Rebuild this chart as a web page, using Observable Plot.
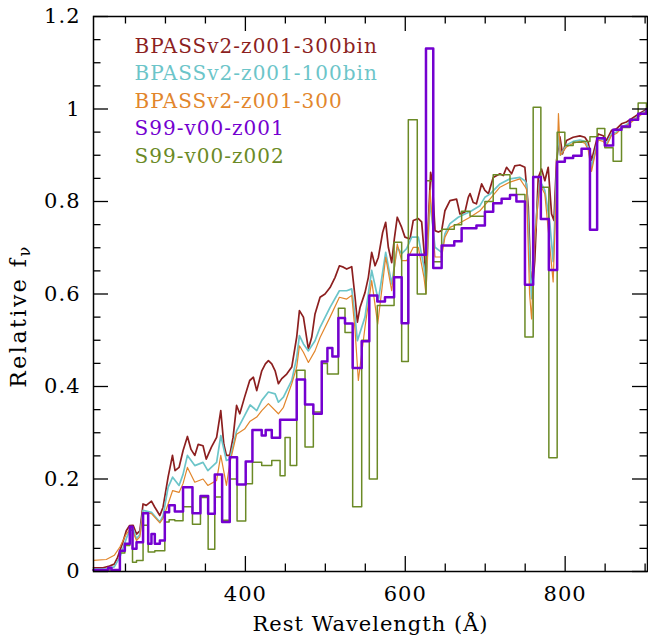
<!DOCTYPE html>
<html>
<head>
<meta charset="utf-8">
<script src="https://cdn.jsdelivr.net/npm/d3@7"></script>
<script src="https://cdn.jsdelivr.net/npm/@observablehq/plot@0.6"></script>
<style>
  html, body { margin: 0; padding: 0; background: white; }
</style>
</head>
<body>
<div id="chart"></div>
<script>
// ---------- data (wavelength in Å, relative f_nu) ----------
const bpass300bin = [[210,0.008],[222,0.008],[230,0.012],[236,0.016],[240,0.03],[243,0.045],[247,0.065],[251,0.088],[255,0.099],[259.6,0.1],[263.8,0.081],[268,0.088],[272,0.146],[276,0.143],[282.5,0.152],[286.7,0.139],[293,0.121],[297,0.139],[303.3,0.204],[308.8,0.251],[312,0.218],[317,0.225],[322,0.261],[327.5,0.292],[332,0.264],[336.7,0.251],[341,0.275],[347,0.272],[351,0.243],[357.5,0.269],[364,0.29],[369.2,0.348],[373,0.275],[376.3,0.251],[380.4,0.251],[384.6,0.29],[389,0.359],[393,0.341],[399,0.377],[405.4,0.413],[410,0.42],[414.2,0.391],[420.5,0.434],[425,0.449],[428.8,0.456],[433,0.449],[437.2,0.434],[441.3,0.406],[445.5,0.417],[451.7,0.427],[458,0.442],[464.2,0.507],[467.6,0.564],[472.6,0.55],[478.8,0.481],[483,0.507],[487.1,0.557],[493.4,0.593],[499.6,0.6],[505.9,0.614],[512.2,0.636],[517.6,0.661],[522.6,0.658],[526.7,0.654],[533,0.659],[537.2,0.593],[540.1,0.539],[543.4,0.571],[549.6,0.603],[553.8,0.636],[558,0.69],[562.2,0.661],[566.3,0.679],[571.7,0.733],[575.5,0.755],[578.8,0.701],[583,0.668],[586.3,0.719],[590,0.766],[595.5,0.744],[599.6,0.723],[606,0.719],[610,0.759],[616.3,0.763],[620.5,0.756],[623.4,0.694],[625.9,0.636],[628.8,0.752],[631.7,0.863],[633.8,0.845],[637.2,0.737],[641.3,0.734],[645.5,0.737],[649.6,0.78],[655.9,0.802],[664.2,0.805],[668.4,0.773],[674.6,0.777],[678.8,0.809],[681,0.817],[685,0.798],[689,0.795],[695.5,0.838],[699.6,0.824],[704,0.817],[710,0.852],[718.4,0.86],[722.6,0.856],[726.7,0.874],[733,0.86],[737,0.877],[743.4,0.879],[749.6,0.874],[753.8,0.79],[756.7,0.65],[759,0.61],[762,0.672],[766.3,0.852],[770.5,0.87],[774.6,0.845],[778.8,0.874],[783,0.773],[786,0.759],[789.2,0.889],[793.4,0.94],[796.7,0.903],[801.7,0.932],[810,0.939],[818.4,0.942],[824.6,0.939],[828.8,0.928],[833,0.889],[837.2,0.918],[841.3,0.946],[847.6,0.942],[851.7,0.932],[858,0.954],[864.2,0.957],[870.5,0.968],[876.7,0.972],[883,0.979],[889.2,0.986],[895.5,0.993],[903,1.0]];

const bpass100bin = [[210,0.005],[226,0.005],[236,0.01],[243,0.031],[251,0.071],[255,0.088],[259.6,0.092],[263.8,0.071],[268,0.08],[272,0.132],[282.5,0.128],[293,0.107],[297,0.12],[303.3,0.182],[309,0.204],[317,0.186],[322,0.21],[327.5,0.251],[336.7,0.229],[347,0.236],[353,0.218],[364,0.236],[369.2,0.294],[376.3,0.24],[380.4,0.243],[389,0.304],[399,0.337],[405.9,0.36],[414.2,0.348],[420.5,0.37],[428.8,0.388],[437.2,0.384],[441.3,0.366],[447.6,0.377],[458,0.413],[464.2,0.463],[467.6,0.51],[472.6,0.492],[478.8,0.477],[487.1,0.499],[493.4,0.528],[505.9,0.571],[517.6,0.607],[526.7,0.607],[533,0.611],[537.2,0.55],[540.1,0.499],[549.6,0.55],[558,0.651],[566.3,0.586],[575.5,0.69],[583,0.622],[590,0.701],[595.5,0.687],[601.7,0.698],[608,0.723],[616.3,0.723],[623.4,0.658],[625.9,0.618],[631,0.802],[637.2,0.701],[645.5,0.69],[649.6,0.73],[655.9,0.752],[666.3,0.766],[674.6,0.773],[681,0.778],[693.4,0.791],[699.6,0.809],[705.9,0.816],[718.4,0.838],[730.9,0.849],[743.4,0.852],[749.6,0.845],[751.7,0.838],[755.9,0.665],[758,0.59],[762,0.73],[768.4,0.845],[774.6,0.824],[780.9,0.752],[785,0.67],[789.2,0.859],[791.6,0.953],[794,0.9],[801.7,0.922],[810,0.93],[818.4,0.933],[824.6,0.93],[828.8,0.918],[833,0.875],[837.2,0.905],[841.3,0.937],[847.6,0.934],[851.7,0.924],[858,0.946],[864.2,0.95],[870.5,0.961],[876.7,0.966],[883,0.974],[889.2,0.982],[895.5,0.99],[903,0.998]];

const bpass300 = [[210,0.024],[226,0.026],[236,0.035],[243,0.053],[251,0.081],[257,0.095],[263.8,0.067],[268,0.075],[272,0.128],[282.5,0.125],[293,0.105],[297,0.115],[303.3,0.146],[309,0.175],[317,0.171],[322,0.19],[327.5,0.225],[336.7,0.193],[347,0.2],[353,0.186],[364,0.197],[369.2,0.251],[376.3,0.186],[380.4,0.233],[389,0.297],[399,0.308],[405.9,0.325],[414.2,0.334],[420.5,0.348],[428.8,0.363],[441.3,0.341],[447.6,0.355],[458,0.406],[464.2,0.442],[467.6,0.488],[472.6,0.474],[478.8,0.452],[487.1,0.477],[493.4,0.506],[505.9,0.55],[517.6,0.593],[526.7,0.589],[533,0.597],[537.2,0.521],[541.3,0.413],[549.6,0.528],[558,0.629],[565.5,0.535],[575.5,0.679],[583,0.607],[590,0.708],[595.5,0.672],[601.7,0.672],[610,0.701],[616.3,0.701],[623.4,0.636],[625.9,0.6],[631,0.824],[637.2,0.68],[645.5,0.68],[649.6,0.723],[655.9,0.744],[666.3,0.752],[681,0.766],[693.4,0.78],[705.9,0.805],[718.4,0.831],[730.9,0.842],[743.4,0.849],[751.7,0.827],[755.5,0.6],[758,0.546],[762,0.723],[768.4,0.838],[774.6,0.816],[780.9,0.701],[785,0.626],[789.2,0.838],[791.6,0.99],[794,0.9],[801.7,0.918],[810,0.926],[818.4,0.93],[824.6,0.926],[828.8,0.912],[833,0.865],[837.2,0.9],[841.3,0.933],[847.6,0.93],[851.7,0.92],[858,0.943],[864.2,0.947],[870.5,0.958],[876.7,0.964],[883,0.972],[889.2,0.98],[895.5,0.988],[903,0.996]];

// Starburst99 spectra: [bin start, value] (drawn as steps)
const s99z001 = [[210,0.003],[228.4,0.008],[232.5,0.003],[243,0.045],[249.2,0.06],[255.4,0.097],[258.8,0.049],[263.8,0.063],[272,0.126],[278.4,0.06],[282.5,0.081],[286.7,0.06],[293,0.067],[299.2,0.128],[304.6,0.143],[311.7,0.13],[322,0.182],[333.8,0.126],[343.8,0.163],[353.4,0.125],[361.7,0.21],[370.9,0.107],[380.4,0.247],[389.6,0.188],[400.4,0.238],[408.8,0.306],[420.4,0.294],[425.4,0.306],[433,0.289],[443.4,0.328],[464.2,0.415],[474.6,0.361],[485,0.341],[495.5,0.454],[502.6,0.483],[508.8,0.465],[516.3,0.548],[524.6,0.536],[534.2,0.44],[545.5,0.498],[555,0.597],[565,0.584],[574.6,0.593],[586,0.636],[595.5,0.537],[603.8,0.685],[625.9,1.131],[635,0.656],[645.5,0.705],[661.3,0.714],[670.5,0.742],[689,0.748],[699.6,0.778],[710,0.796],[720.5,0.806],[731,0.814],[739,0.8],[749.7,0.62],[760,0.853],[769.6,0.762],[779.6,0.652],[790,0.886],[799.6,0.894],[810,0.899],[820.5,0.914],[831,0.739],[840,0.937],[849.6,0.921],[860,0.955],[870.5,0.962],[881,0.977],[891.3,0.99],[901.7,1.0],[903,1.0]];

const s99z002 = [[210,0.003],[243,0.04],[249.2,0.056],[255.4,0.089],[258.8,0.02],[263.8,0.024],[272,0.1],[278.4,0.042],[286.7,0.045],[299.2,0.107],[304.6,0.112],[311.7,0.11],[322,0.14],[333.8,0.102],[343.8,0.16],[353.4,0.048],[361.7,0.161],[370.9,0.111],[380.4,0.2],[389.6,0.109],[400.4,0.19],[408.8,0.236],[420.4,0.229],[433,0.24],[443.4,0.207],[449.6,0.29],[456,0.229],[464.2,0.435],[474.6,0.269],[485,0.345],[495.5,0.45],[502.6,0.427],[516.3,0.569],[524.6,0.517],[534.2,0.14],[545.5,0.5],[555,0.2],[565,0.575],[586,0.712],[595.5,0.454],[603.8,0.977],[615,0.6],[625.9,0.845],[635,0.67],[645.5,0.74],[661.3,0.75],[670.5,0.779],[681,0.768],[699.6,0.8],[710,0.858],[731,0.828],[739,0.815],[749.7,0.507],[760,1.004],[769.6,0.831],[779.6,0.246],[790,0.95],[799.6,0.921],[810,0.928],[820.5,0.93],[831,0.94],[840,0.958],[849.6,0.916],[860,0.887],[870.5,0.96],[881,0.977],[891.3,1.013],[901.7,1.0],[903,1.0]];

const seriesNames = ["BPASSv2-z001-300bin", "BPASSv2-z001-100bin", "BPASSv2-z001-300", "S99-v00-z001", "S99-v00-z002"];
const seriesColors = ["#8c1f1f", "#6cc5c9", "#e2862c", "#7400d0", "#6b8a26"];

const xDomain = [210, 903];
const yDomain = [0, 1.2];
const xMajorTicks = [400, 600, 800];
const xMinorTicks = [250, 300, 350, 450, 500, 550, 650, 700, 750, 850, 900];
const yMajorTicks = [0, 0.2, 0.4, 0.6, 0.8, 1, 1.2];
const yMinorTicks = [0.05, 0.1, 0.15, 0.25, 0.3, 0.35, 0.45, 0.5, 0.55, 0.65, 0.7, 0.75, 0.85, 0.9, 0.95, 1.05, 1.1, 1.15];
const xTitle = "Rest Wavelength (Å)";
const yTitle = "Relative f";
const yTitleSub = "ν";

// ---------- layout ----------
const W = 648, H = 639;
const mL = 93, mR = 1, mT = 16, mB = 68;
const innerW = W - mL - mR, innerH = H - mT - mB;
const majorLen = 15, minorLen = 7.5;

const spectra = [bpass300bin, bpass100bin, bpass300];
const spectraWidth = [1.7, 1.7, 1.2];
const steps = [s99z001, s99z002];
const stepWidth = [2.5, 1.5];

const marks = [];
spectra.forEach((s, i) => {
  marks.push(Plot.line(s, {x: d => d[0], y: d => d[1], stroke: seriesColors[i], strokeWidth: spectraWidth[i], strokeLinejoin: "round"}));
});
// olive below purple
[1, 0].forEach(j => {
  marks.push(Plot.line(steps[j], {x: d => d[0], y: d => d[1], stroke: seriesColors[3 + j], strokeWidth: stepWidth[j], curve: "step-after"}));
});

// inward ticks on all four sides
const tickStyle = {stroke: "black", strokeWidth: 1.3, strokeOpacity: 1};
marks.push(
  Plot.tickX(xMajorTicks, {x: d => d, insetTop: innerH - majorLen, ...tickStyle}),
  Plot.tickX(xMinorTicks, {x: d => d, insetTop: innerH - minorLen, ...tickStyle}),
  Plot.tickX(xMajorTicks, {x: d => d, insetBottom: innerH - majorLen, ...tickStyle}),
  Plot.tickX(xMinorTicks, {x: d => d, insetBottom: innerH - minorLen, ...tickStyle}),
  Plot.tickY(yMajorTicks, {y: d => d, insetRight: innerW - majorLen, ...tickStyle}),
  Plot.tickY(yMinorTicks, {y: d => d, insetRight: innerW - minorLen, ...tickStyle}),
  Plot.tickY(yMajorTicks, {y: d => d, insetLeft: innerW - majorLen, ...tickStyle}),
  Plot.tickY(yMinorTicks, {y: d => d, insetLeft: innerW - minorLen, ...tickStyle}),
  Plot.axisX(xMajorTicks, {tickSize: 0, tickPadding: 15, fontSize: 21, label: null, tickFormat: d => String(d)}),
  Plot.axisY(yMajorTicks, {tickSize: 0, tickPadding: 13, fontSize: 21, label: null, tickFormat: d => String(d)}),
  Plot.frame({stroke: "black", strokeWidth: 1.5}),
  Plot.text([xTitle], {frameAnchor: "bottom", dy: 59, fontSize: 21, fill: "black"}),
  Plot.text([yTitle], {frameAnchor: "left", dx: -75, dy: 22, rotate: -90, fontSize: 22, fill: "black", textAnchor: "middle"})
);
seriesNames.forEach((name, i) => {
  marks.push(Plot.text([name], {frameAnchor: "top-left", dx: 41, dy: 22 + i * 27.5, textAnchor: "start", fontSize: 20, fill: seriesColors[i]}));
});

const chart = Plot.plot({
  width: W, height: H,
  marginLeft: mL, marginRight: mR, marginTop: mT, marginBottom: mB,
  x: {domain: xDomain},
  y: {domain: yDomain},
  style: {fontFamily: "'DejaVu Serif', serif", fontSize: "21px", letterSpacing: "1px", background: "white", color: "black"},
  marks
});
document.getElementById("chart").appendChild(chart);

// subscript nu on the y title
d3.select(chart).selectAll("text").filter(function() { return this.textContent === yTitle; })
  .each(function() {
    const t = d3.select(this);
    t.attr("letter-spacing", "2.5px");
    t.append("tspan").attr("dy", "0.3em").attr("font-size", "16px").text(yTitleSub);
  });
</script>
</body>
</html>
